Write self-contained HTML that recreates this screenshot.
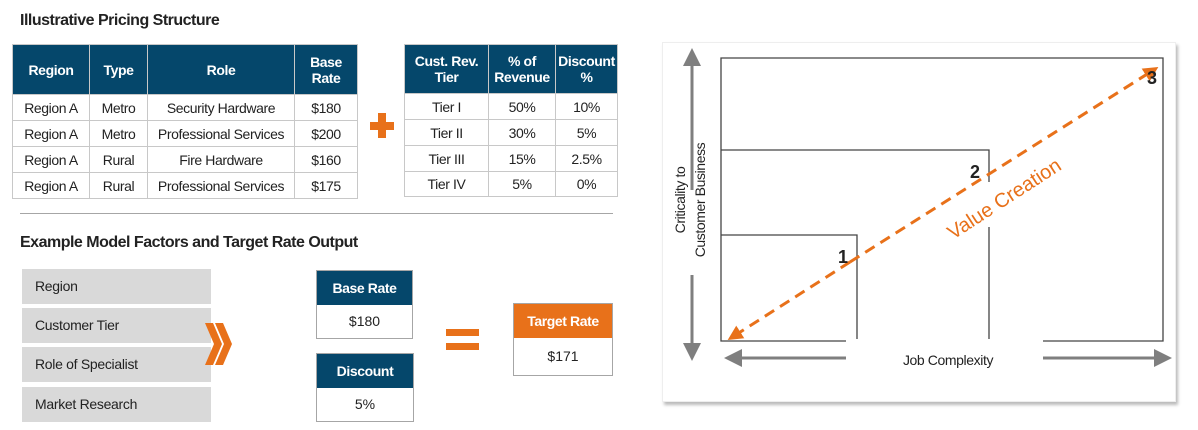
<!DOCTYPE html>
<html><head><meta charset="utf-8"><style>
*{box-sizing:border-box;margin:0;padding:0}
body{width:1198px;height:430px;background:#fff;position:relative;overflow:hidden;font-family:"Liberation Sans",Arial,sans-serif;color:#222}
.a{position:absolute}
table{border-collapse:collapse;position:absolute;font-size:14px;letter-spacing:-0.4px}
td,th{border:1px solid #c8c8c8;text-align:center;padding:0}
th{background:#05476b;color:#fff;font-weight:bold;border-color:#c8c8c8}
.h{font-weight:bold;font-size:16px;letter-spacing:-0.5px;color:#222}
.g{position:absolute;left:22px;width:189px;height:35px;background:#d9d9d9;font-size:14px;padding:9px 0 0 13px;letter-spacing:-0.3px}
.bx{position:absolute;border:1px solid #a6a6a6;text-align:center;font-size:14px}
.bx .hd{color:#fff;font-weight:bold;height:34px;line-height:34px;letter-spacing:-0.4px}
.bx .bd{height:33px;line-height:33px}
</style></head><body>
<div class="a h" style="left:20px;top:12px">Illustrative Pricing Structure</div>
<table style="left:12px;top:44px;width:346px">
<tr style="height:50px"><th style="width:77px">Region</th><th style="width:58px">Type</th><th style="width:147px">Role</th><th>Base<br>Rate</th></tr>
<tr style="height:26px"><td>Region A</td><td>Metro</td><td>Security Hardware</td><td>$180</td></tr>
<tr style="height:26px"><td>Region A</td><td>Metro</td><td>Professional Services</td><td>$200</td></tr>
<tr style="height:26px"><td>Region A</td><td>Rural</td><td>Fire Hardware</td><td>$160</td></tr>
<tr style="height:26px"><td>Region A</td><td>Rural</td><td>Professional Services</td><td>$175</td></tr>
</table>
<div class="a" style="left:370px;top:122px;width:24px;height:8px;background:#e8711a"></div>
<div class="a" style="left:378px;top:113px;width:8px;height:25px;background:#e8711a"></div>
<table style="left:404px;top:44px;width:214px">
<tr style="height:49px"><th style="width:84px">Cust. Rev.<br>Tier</th><th style="width:67px">% of<br>Revenue</th><th>Discount<br>%</th></tr>
<tr style="height:26px"><td>Tier I</td><td>50%</td><td>10%</td></tr>
<tr style="height:26px"><td>Tier II</td><td>30%</td><td>5%</td></tr>
<tr style="height:26px"><td>Tier III</td><td>15%</td><td>2.5%</td></tr>
<tr style="height:25px"><td>Tier IV</td><td>5%</td><td>0%</td></tr>
</table>
<div class="a" style="left:20px;top:213px;width:593px;height:1px;background:#a6a6a6"></div>
<div class="a h" style="left:20px;top:234px">Example Model Factors and Target Rate Output</div>
<div class="g" style="top:269px">Region</div>
<div class="g" style="top:308px">Customer Tier</div>
<div class="g" style="top:347px">Role of Specialist</div>
<div class="g" style="top:387px">Market Research</div>
<svg class="a" style="left:200px;top:320px" width="35" height="48"><polygon points="5,3 13,3 22,24 13,45 5,45 14,24" fill="#e8711a"/><polygon points="15,3 23,3 32,24 23,45 15,45 24,24" fill="#e8711a"/></svg>
<div class="bx" style="left:316px;top:270px;width:97px"><div class="hd" style="background:#05476b">Base Rate</div><div class="bd">$180</div></div>
<div class="bx" style="left:316px;top:353px;width:98px"><div class="hd" style="background:#05476b">Discount</div><div class="bd">5%</div></div>
<div class="a" style="left:446px;top:329px;width:33px;height:7px;background:#e8711a"></div>
<div class="a" style="left:446px;top:343px;width:33px;height:7px;background:#e8711a"></div>
<div class="bx" style="left:513px;top:303px;width:100px"><div class="hd" style="background:#e8711a">Target Rate</div><div class="bd" style="height:37px;line-height:37px">$171</div></div>

<div class="a" style="left:662px;top:42px;width:514px;height:360px;border:1px solid #eee;box-shadow:2px 3px 3px #bbb"></div>
<svg class="a" style="left:0;top:0" width="1198" height="430">
<defs>
<marker id="ga" markerWidth="6" markerHeight="6" refX="3" refY="3" orient="auto"><path d="M0,0 L6,3 L0,6 z" fill="#7f7f7f"/></marker>
<marker id="oa" markerWidth="5" markerHeight="5" refX="2.5" refY="2.5" orient="auto"><path d="M0,0 L5,2.5 L0,5 z" fill="#e8711a"/></marker>
</defs>
<g fill="none" stroke="#444" stroke-width="1.3">
<path d="M1043,341 H1163 V58 H721 V341 H846"/>
<path d="M721,150 H989 V182 M989,227 V339"/>
<path d="M721,235 H857 V339"/>
</g>
<g stroke="#7f7f7f" stroke-width="3">
<line x1="692" y1="125" x2="692" y2="57" marker-end="url(#ga)"/>
<line x1="692" y1="125" x2="692" y2="190"/>
<line x1="692" y1="275" x2="692" y2="352" marker-end="url(#ga)"/>
<line x1="846" y1="358" x2="733" y2="358" marker-end="url(#ga)"/>
<line x1="1043" y1="358" x2="1163" y2="358" marker-end="url(#ga)"/>
</g>
<line x1="850" y1="262" x2="734" y2="336" stroke="#e8711a" stroke-width="3" stroke-dasharray="11,7" marker-end="url(#oa)"/>
<line x1="850" y1="262" x2="1152" y2="71" stroke="#e8711a" stroke-width="3" stroke-dasharray="11,7" marker-end="url(#oa)"/>
<text x="838" y="263" font-size="18" font-weight="bold" fill="#222" font-family="Liberation Sans">1</text>
<text x="970" y="178" font-size="18" font-weight="bold" fill="#222" font-family="Liberation Sans">2</text>
<text x="1147" y="84" font-size="18" font-weight="bold" fill="#222" font-family="Liberation Sans">3</text>
<text transform="translate(953,240) rotate(-33)" font-size="20" fill="#e8711a" font-family="Liberation Sans">Value Creation</text>
<text x="948" y="365" text-anchor="middle" font-size="14" fill="#222" font-family="Liberation Sans" letter-spacing="-0.4">Job Complexity</text>
<text transform="translate(685,200) rotate(-90)" text-anchor="middle" font-size="14" fill="#222" font-family="Liberation Sans" letter-spacing="-0.4"><tspan x="0" y="0">Criticality to</tspan><tspan x="0" y="20">Customer Business</tspan></text>
</svg>
</body></html>
